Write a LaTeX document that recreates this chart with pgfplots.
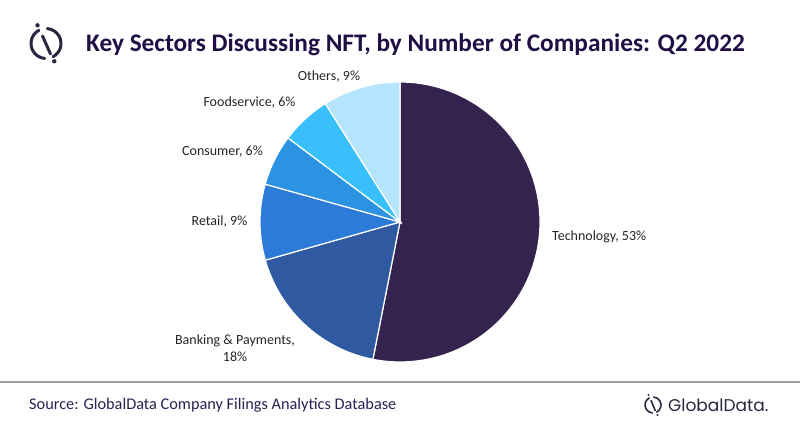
\documentclass[border=0pt]{standalone}
\usepackage{pgfplots}
\pgfplotsset{compat=1.18}
\usepackage{fontspec}
\setmainfont{Carlito}
\newfontfamily\logofont{Poppins}
\definecolor{cTech}{HTML}{34224F}
\definecolor{cBank}{HTML}{2F5AA1}
\definecolor{cRet}{HTML}{2D7BD8}
\definecolor{cCons}{HTML}{2C92E2}
\definecolor{cFood}{HTML}{39C0FA}
\definecolor{cOth}{HTML}{B4E5FC}
\definecolor{cTitle}{HTML}{1F0F45}
\definecolor{cLab}{HTML}{262626}
\definecolor{cSrc}{HTML}{2B2152}
\definecolor{cLogo}{HTML}{2B2640}
% shares of companies (%), clockwise from 12 o'clock
\def\vTech{53.1}
\def\vBank{17.5}
\def\vRet{8.75}
\def\vCons{5.9}
\def\vFood{5.8}
\def\vOth{8.95}
\pgfmathsetmacro\aA{90}
\pgfmathsetmacro\aB{\aA-3.6*\vTech}
\pgfmathsetmacro\aC{\aB-3.6*\vBank}
\pgfmathsetmacro\aD{\aC-3.6*\vRet}
\pgfmathsetmacro\aE{\aD-3.6*\vCons}
\pgfmathsetmacro\aF{\aE-3.6*\vFood}
\pgfmathsetmacro\aG{\aF-3.6*\vOth}
\def\cx{400}
\def\cy{206}
\def\R{140}
\begin{document}
\begin{tikzpicture}[x=1pt,y=1pt]
\path[use as bounding box, fill=white] (0,0) rectangle (800,428);
% top-left logo
\begin{scope}[line width=3pt, cLogo, line cap=round]
\draw (46,384.5) ++(118:15) arc[start angle=118, end angle=265, radius=15];
\draw (46,384.5) ++(-62:15) arc[start angle=-62, end angle=85, radius=15];
\draw (42.5,392) -- (50.5,374);
\fill (37.5,402.7) circle (2.2);
\fill (54.3,366.7) circle (2.2);
\end{scope}
\node[anchor=base west, text=cTitle, font=\fontsize{25.3}{28}\selectfont\bfseries, inner sep=0pt] at (86,376) {Key Sectors Discussing NFT, by Number of Companies: Q2 2022};
\begin{axis}[at={(0,0)}, anchor=south west, scale only axis, x=1pt, y=1pt,
  xmin=0, xmax=800, ymin=0, ymax=428, hide axis, clip=false]
\addplot[fill=cTech, draw=white, line width=1.2pt, domain=\aA:\aB, samples=120, variable=\t] ({\cx+\R*cos(t)},{\cy+\R*sin(t)}) -- (axis cs:\cx,\cy) -- cycle;
\addplot[fill=cBank, draw=white, line width=1.2pt, domain=\aB:\aC, samples=60, variable=\t] ({\cx+\R*cos(t)},{\cy+\R*sin(t)}) -- (axis cs:\cx,\cy) -- cycle;
\addplot[fill=cRet, draw=white, line width=1.2pt, domain=\aC:\aD, samples=40, variable=\t] ({\cx+\R*cos(t)},{\cy+\R*sin(t)}) -- (axis cs:\cx,\cy) -- cycle;
\addplot[fill=cCons, draw=white, line width=1.2pt, domain=\aD:\aE, samples=30, variable=\t] ({\cx+\R*cos(t)},{\cy+\R*sin(t)}) -- (axis cs:\cx,\cy) -- cycle;
\addplot[fill=cFood, draw=white, line width=1.2pt, domain=\aE:\aF, samples=30, variable=\t] ({\cx+\R*cos(t)},{\cy+\R*sin(t)}) -- (axis cs:\cx,\cy) -- cycle;
\addplot[fill=cOth, draw=white, line width=1.2pt, domain=\aF:\aG, samples=40, variable=\t] ({\cx+\R*cos(t)},{\cy+\R*sin(t)}) -- (axis cs:\cx,\cy) -- cycle;
\end{axis}
\begin{scope}[every node/.style={text=cLab, font=\fontsize{14}{17}\selectfont, inner sep=0pt}]
\node at (329,351) {Others, 9\%};
\node at (249.5,325) {Foodservice, 6\%};
\node at (222.5,276) {Consumer, 6\%};
\node at (219.5,206) {Retail, 9\%};
\node[align=center] at (235,79.5) {Banking \& Payments,\\18\%};
\node[anchor=west] at (552,191) {Technology, 53\%};
\end{scope}
% footer
\draw[color=black!38, line width=1.2pt] (0,46) -- (800,46);
\node[anchor=west, text=cSrc, font=\fontsize{16.3}{18}\selectfont, inner sep=0pt] at (29,23) {Source: GlobalData Company Filings Analytics Database};
\begin{scope}[line width=1.6pt, cLogo, line cap=round]
\draw (653,23) ++(118:8) arc[start angle=118, end angle=265, radius=8];
\draw (653,23) ++(-62:8) arc[start angle=-62, end angle=85, radius=8];
\draw (651,27.5) -- (655.2,17.5);
\fill (648.5,33) circle (1.2);
\fill (657.5,13) circle (1.2);
\end{scope}
\node[anchor=west, text=cLogo, font=\logofont\fontsize{17}{20}\selectfont, inner sep=0pt] at (668,23) {GlobalData.};
\end{tikzpicture}
\end{document}
